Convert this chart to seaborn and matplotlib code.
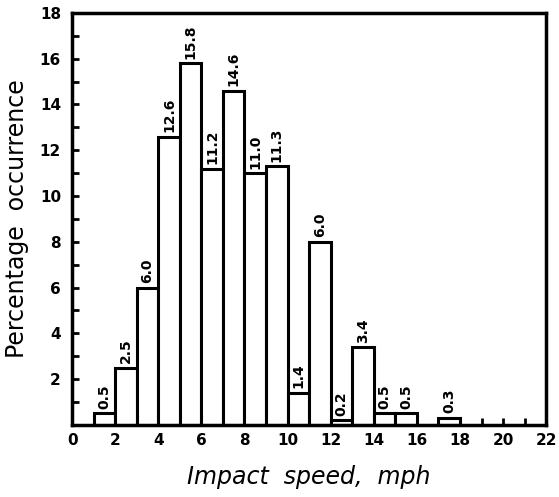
import numpy as np
import pandas as pd
import matplotlib
matplotlib.use("Agg")
import matplotlib.pyplot as plt
import seaborn as sns

# Data
bin_left = [1, 2, 3, 4, 5, 6, 7, 8, 9, 10, 11, 12, 13, 14, 15, 17]
heights = [0.5, 2.5, 6.0, 12.6, 15.8, 11.2, 14.6, 11.0, 11.3, 1.4, 8.0, 0.2, 3.4, 0.5, 0.5, 0.3]
bar_labels = ["0.5", "2.5", "6.0", "12.6", "15.8", "11.2", "14.6", "11.0", "11.3",
              "1.4", "6.0", "0.2", "3.4", "0.5", "0.5", "0.3"]
x_ticks = list(range(0, 23, 2))
y_ticks = list(range(2, 19, 2))

sns.set_style("white")
plt.rcParams['font.family'] = ['DejaVu Sans']
plt.rcParams['text.color'] = 'black'
plt.rcParams['axes.labelcolor'] = 'black'
plt.rcParams['xtick.color'] = 'black'
plt.rcParams['ytick.color'] = 'black'

fig = plt.figure(figsize=(5.59, 4.97), dpi=100)
ax = fig.add_axes([0.129, 0.145, 0.848, 0.829])

df = pd.DataFrame({"speed": [b + 0.5 for b in bin_left], "pct": heights})
sns.histplot(data=df, x="speed", weights="pct", binwidth=1, binrange=(1, 18),
             color="white", edgecolor="black", linewidth=2.2, alpha=1, ax=ax)

for b, h, lab in zip(bin_left, heights, bar_labels):
    ax.text(b + 0.5, h + 0.2, lab, rotation=90, ha="center", va="bottom",
            fontsize=10, fontweight="bold", color="black")

ax.set_xlim(0, 22)
ax.set_ylim(0, 18)
ax.set_xticks(x_ticks)
ax.set_xticklabels([str(v) for v in x_ticks], fontsize=11, fontweight="bold")
ax.set_yticks(y_ticks)
ax.set_yticklabels([str(v) for v in y_ticks], fontsize=11, fontweight="bold")
ax.set_xticks(range(0, 23), minor=True)
ax.set_yticks(range(0, 19), minor=True)
ax.tick_params(axis="both", which="both", direction="in", length=5, width=2,
               color="black", bottom=True, left=True, top=False, right=False)
ax.tick_params(axis="x", which="major", pad=6)
ax.tick_params(axis="y", which="major", pad=8)

for s in ax.spines.values():
    s.set_linewidth(2.5)
    s.set_color("black")

ax.set_xlabel("Impact  speed,  mph", fontsize=17, labelpad=12, style="italic", color="black")
ax.set_ylabel("Percentage  occurrence", fontsize=17, labelpad=8, color="black")

fig.savefig("out.png", dpi=100)
